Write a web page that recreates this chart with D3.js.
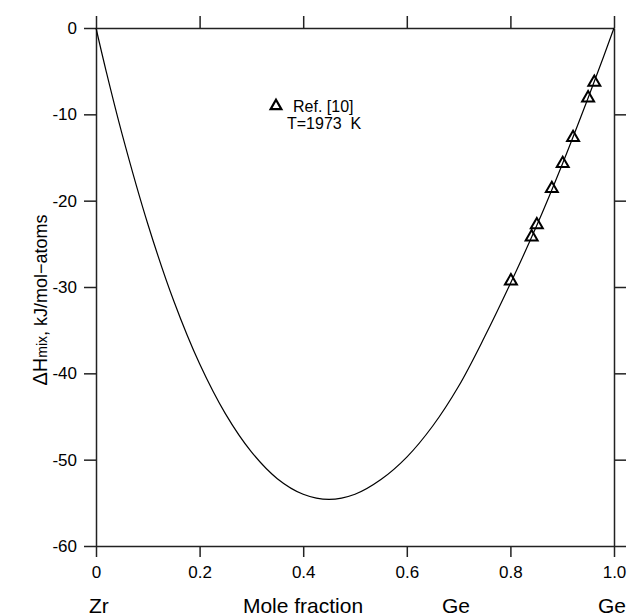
<!DOCTYPE html>
<html>
<head>
<meta charset="utf-8">
<script src="https://cdn.jsdelivr.net/npm/d3@7"></script>
<style>
  body { margin: 0; background: #fff; }
  svg { display: block; font-family: "Liberation Sans", Arial, sans-serif; }
</style>
</head>
<body>
<svg id="chart" width="633" height="616"></svg>
<script>
// calculated curve
const curveX = [0, 0.02, 0.05, 0.1, 0.15, 0.2, 0.25, 0.3, 0.35, 0.4, 0.45, 0.5,
  0.55, 0.6, 0.65, 0.7, 0.75, 0.8, 0.85, 0.9, 0.95, 0.98, 1];
const curveY = [0, -5.1, -12.2, -22.7, -31.6, -38.9, -44.7, -49.1, -52.2, -54.0, -54.6, -54.0,
  -52.3, -49.7, -46.1, -41.5, -35.8, -29.6, -23.0, -15.8, -8.1, -3.3, 0];

// Ref. [10] points
const refX = [0.801, 0.841, 0.851, 0.880, 0.901, 0.921, 0.950, 0.962];
const refY = [-29.3, -24.2, -22.8, -18.6, -15.7, -12.7, -8.1, -6.3];

const xTicks = [0, 0.2, 0.4, 0.6, 0.8, 1.0];
const xTickLabels = ["0", "0.2", "0.4", "0.6", "0.8", "1.0"];
const yTicks = [0, -10, -20, -30, -40, -50, -60];
const yTickLabels = ["0", "-10", "-20", "-30", "-40", "-50", "-60"];

const legendLabel = "Ref. [10]";
const legendNote = "T=1973 K";

const svg = d3.select("#chart");
const margin = { left: 96, right: 19, top: 28, bottom: 70 };
const width = 633 - margin.left - margin.right;
const height = 616 - margin.top - margin.bottom;

const x = d3.scaleLinear().domain([0, 1]).range([0, width]);
const y = d3.scaleLinear().domain([-60, 0]).range([height, 0]);

const g = svg.append("g").attr("transform", `translate(${margin.left},${margin.top})`);

const axisColor = "#222";

function styleAxis(sel) {
  sel.select(".domain").attr("stroke", axisColor).attr("stroke-width", 1.5);
  sel.selectAll(".tick line").attr("stroke", axisColor).attr("stroke-width", 1.5);
  sel.selectAll("text").attr("fill", "#000").style("font-size", "17px");
}

// bottom axis
g.append("g")
  .attr("transform", `translate(0,${height})`)
  .call(d3.axisBottom(x).tickValues(xTicks).tickSize(11).tickSizeOuter(0).tickPadding(9)
    .tickFormat((d, i) => xTickLabels[i]))
  .call(styleAxis);

// top axis
g.append("g")
  .call(d3.axisTop(x).tickValues(xTicks).tickSize(12).tickSizeOuter(0).tickFormat(""))
  .call(styleAxis);

// left axis
g.append("g")
  .call(d3.axisLeft(y).tickValues(yTicks).tickSize(12).tickSizeOuter(0).tickPadding(7)
    .tickFormat((d, i) => yTickLabels[i]))
  .call(styleAxis);

// right axis
g.append("g")
  .attr("transform", `translate(${width},0)`)
  .call(d3.axisRight(y).tickValues(yTicks.slice(1)).tickSize(12).tickSizeOuter(0).tickFormat(""))
  .call(styleAxis);

// curve
const line = d3.line()
  .x((d, i) => x(curveX[i]))
  .y(d => y(d))
  .curve(d3.curveCatmullRom.alpha(0.5));

g.append("path")
  .datum(curveY)
  .attr("fill", "none")
  .attr("stroke", "#000")
  .attr("stroke-width", 1.2)
  .attr("d", line);

// triangles
const tri = d3.symbol().type(d3.symbolTriangle).size(62);
g.selectAll(".ref")
  .data(refX)
  .join("path")
  .attr("class", "ref")
  .attr("transform", (d, i) => `translate(${x(d)},${y(refY[i])})`)
  .attr("d", tri)
  .attr("fill", "none")
  .attr("stroke", "#000")
  .attr("stroke-width", 2);

// legend
svg.append("path")
  .attr("transform", "translate(276,106)")
  .attr("d", d3.symbol().type(d3.symbolTriangle).size(50))
  .attr("fill", "none")
  .attr("stroke", "#000")
  .attr("stroke-width", 2.2);
svg.append("text").attr("x", 293).attr("y", 112).style("font-size", "16px").text(legendLabel);
svg.append("text").attr("x", 287).attr("y", 129).style("font-size", "16px")
  .attr("xml:space", "preserve").text(legendNote.replace(" K", "  K"));

// y label
const yl = svg.append("text")
  .attr("transform", "translate(47,300) rotate(-90)")
  .attr("text-anchor", "middle")
  .style("font-size", "18px");
yl.append("tspan").style("font-size", "20px").text("\u0394H");
yl.append("tspan").style("font-size", "14px").text("mix");
yl.append("tspan").text(", kJ/mol\u2212atoms");

// bottom labels
const bottomY = 613;
svg.append("text").attr("x", 89).attr("y", bottomY).style("font-size", "21px").text("Zr");
svg.append("text").attr("x", 303).attr("y", bottomY).attr("text-anchor", "middle")
  .style("font-size", "21px").text("Mole fraction");
svg.append("text").attr("x", 456).attr("y", bottomY).attr("text-anchor", "middle")
  .style("font-size", "21px").text("Ge");
svg.append("text").attr("x", 598).attr("y", bottomY).style("font-size", "21px").text("Ge");
</script>
</body>
</html>
